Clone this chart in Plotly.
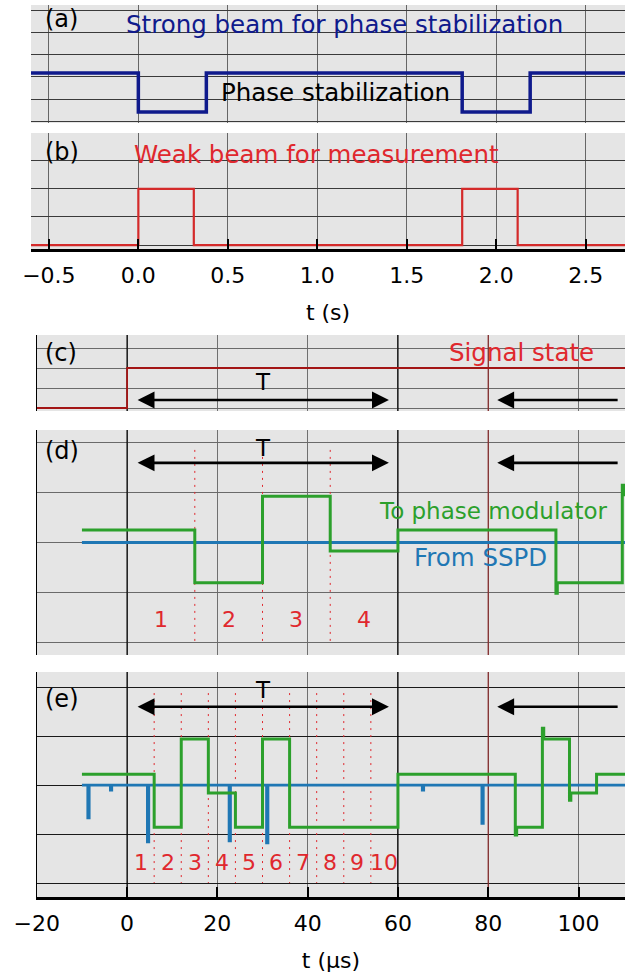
import plotly.graph_objects as go

W, H = 625, 973

# ---------------- data ----------------
# (a) strong beam for phase stabilization: transition times (s) and level after each
beam_t = [-0.6, 0.0, 0.38, 1.81, 2.19, 2.72]
beam_v = [2.18, 0.41, 2.18, 0.41, 2.18, 2.18]
# (b) weak beam for measurement
weak_t = [-0.6, 0.0, 0.31, 1.81, 2.12, 2.72]
weak_v = [0, 2, 0, 2, 0, 0]
# (c) signal state (t in us)
sig_t = [-20, 0, 110.3]
sig_v = [0, 2, 2]
# (d) to phase modulator / from SSPD
pm_d_t = [-10, 15, 30, 45, 60, 95, 95.3, 109.7, 110.3]
pm_d_v = [2.25, 1.19, 2.93, 1.83, 2.25, 0.98, 1.19, 3.15, 2.93]
sspd_d_t = [-10, 110.3]
sspd_d_v = [2.0, 2.0]
# (e) to phase modulator / from SSPD
pm_e_t = [-10, 6, 12, 18, 24, 30, 36, 60, 86, 86.3, 92, 92.3, 98, 98.3, 104, 110.3]
pm_e_v = [2.22, 1.14, 2.94, 1.84, 1.14, 2.94, 1.14, 2.22, 0.98, 1.14, 3.16, 2.94, 1.69, 1.84, 2.22, 2.22]
sspd_base = 2.0
spike_t = [-8.7, -3.7, 4.5, 22.6, 30.9, 65.4, 78.6]
spike_v = [1.33, 1.9, 0.84, 0.86, 0.82, 1.9, 1.22]
# time-slot dividers and labels
div_d = [15, 30, 45]
lab_d_t = [7.5, 22.5, 37.5, 52.5]
lab_d = ["1", "2", "3", "4"]
div_e = [6, 12, 18, 24, 30, 36, 42, 48, 54]
lab_e_t = [3, 9, 15, 21, 27, 33, 39, 45, 51, 57]
lab_e = ["1", "2", "3", "4", "5", "6", "7", "8", "9", "10"]
# ticks
top_ticks = [-0.5, 0.0, 0.5, 1.0, 1.5, 2.0, 2.5]
bot_ticks = [-20, 0, 20, 40, 60, 80, 100]
period_lines = [0, 60]
next_period = 80
T_start, T_end = 2, 58
T_next_start, T_next_end = 82, 109

FONT = "DejaVu Sans"
NAVY = "#0f1a8c"
RED = "#e0282e"
DRED = "#a31515"
GREEN = "#2ca02c"
BLUE = "#1f77b4"
BG = "#e5e5e5"


def py(p):
    return 1 - p / H


def px(p):
    return p / W


fig = go.Figure()

# panel geometry (pixels)
top_dom = [px(31), 1.0]
bot_dom = [px(36.8), 1.0]
panels = {
    "a": dict(y=(5, 123), rng=[-0.09, 5.27], ticks=[0, 1, 2, 3, 4, 5], top=True, hgrid="#3a3a3a"),
    "b": dict(y=(133, 249), rng=[-0.14, 3.99], ticks=[0, 1, 2, 3], top=True, hgrid="#3a3a3a"),
    "c": dict(y=(335, 411), rng=[-0.15, 3.65], ticks=[0, 1, 2, 3], top=False, hgrid="#6a6a6a"),
    "d": dict(y=(430, 655), rng=[-0.26, 4.26], ticks=[0, 1, 2, 3, 4], top=False, hgrid="#6a6a6a"),
    "e": dict(y=(672, 897), rng=[-0.286, 4.31], ticks=[0, 1, 2, 3, 4], top=False, hgrid="#1a1a1a"),
}
names = ["a", "b", "c", "d", "e"]
layout = {}
for i, k in enumerate(names):
    p = panels[k]
    n = "" if i == 0 else str(i + 1)
    y0, y1 = p["y"]
    xa = dict(
        domain=top_dom if p["top"] else bot_dom,
        range=[-0.6, 2.72] if p["top"] else [-20, 110.3],
        anchor="y" + n,
        tickvals=top_ticks if p["top"] else bot_ticks,
        showgrid=True,
        gridcolor="#666666" if p["top"] else "#707070",
        gridwidth=1,
        zeroline=False,
        showticklabels=False,
        ticks="",
        showline=False,
        automargin=False,
    )
    if k in ("b", "e"):
        xa.update(
            showticklabels=True,
            ticks="inside",
            ticklen=10,
            tickwidth=2,
            tickcolor="black",
            showline=True,
            linecolor="black",
            linewidth=3,
            ticklabelstandoff=5,
            tickfont=dict(family=FONT, size=22, color="black"),
        )
        if k == "b":
            xa.update(tickformat=".1f",
                      title=dict(text="t (s)", font=dict(family=FONT, size=22, color="black"), standoff=18))
        else:
            xa.update(title=dict(text="t (μs)", font=dict(family=FONT, size=22, color="black"), standoff=20))
    ya = dict(
        domain=[py(y1), py(y0)],
        range=p["rng"],
        anchor="x" + n,
        tickvals=p["ticks"],
        showticklabels=False,
        showgrid=True,
        gridcolor=p["hgrid"],
        gridwidth=1,
        zeroline=False,
        ticks="",
        showline=not p["top"],
        linecolor="black",
        linewidth=1,
        automargin=False,
    )
    layout["xaxis" + n] = xa
    layout["yaxis" + n] = ya

# ---------------- traces ----------------
fig.add_trace(go.Scatter(x=beam_t, y=beam_v, mode="lines", line=dict(color=NAVY, width=3.5, shape="hv"),
                         xaxis="x", yaxis="y", hoverinfo="skip"))
fig.add_trace(go.Scatter(x=weak_t, y=weak_v, mode="lines", line=dict(color="#d42a2a", width=2.2, shape="hv"),
                         xaxis="x2", yaxis="y2", hoverinfo="skip"))

# emphasised period boundaries and next-period line in lower panels
for n, yr in (("3", panels["c"]["rng"]), ("4", panels["d"]["rng"]), ("5", panels["e"]["rng"])):
    for t in period_lines:
        fig.add_trace(go.Scatter(x=[t, t], y=yr, mode="lines", line=dict(color="black", width=1.2),
                                 xaxis="x" + n, yaxis="y" + n, hoverinfo="skip"))
    fig.add_trace(go.Scatter(x=[next_period, next_period], y=yr, mode="lines",
                             line=dict(color="#8a2a2a", width=1.2),
                             xaxis="x" + n, yaxis="y" + n, hoverinfo="skip"))

fig.add_trace(go.Scatter(x=sig_t, y=sig_v, mode="lines", line=dict(color=DRED, width=1.8, shape="hv"),
                         xaxis="x3", yaxis="y3", hoverinfo="skip"))


# dotted slot dividers
def dividers(ts, top, n):
    xs, ys = [], []
    for t in ts:
        xs += [t, t, None]
        ys += [top, 0, None]
    fig.add_trace(go.Scatter(x=xs, y=ys, mode="lines", line=dict(color=RED, width=1, dash="2px,5px"),
                             xaxis="x" + n, yaxis="y" + n, hoverinfo="skip"))


dividers(div_d, 3.86, "4")
dividers(div_e, 3.88, "5")

fig.add_trace(go.Scatter(x=sspd_d_t, y=sspd_d_v, mode="lines", line=dict(color=BLUE, width=3),
                         xaxis="x4", yaxis="y4", hoverinfo="skip"))
fig.add_trace(go.Scatter(x=pm_d_t, y=pm_d_v, mode="lines", line=dict(color=GREEN, width=3, shape="hv"),
                         xaxis="x4", yaxis="y4", hoverinfo="skip"))

# SSPD trace in (e): baseline with downward detection spikes
se_t = [-10]
se_v = [sspd_base]
for t, v in zip(spike_t, spike_v):
    se_t += [t, t + 0.3]
    se_v += [v, sspd_base]
se_t.append(110.3)
se_v.append(sspd_base)
fig.add_trace(go.Scatter(x=se_t, y=se_v, mode="lines", line=dict(color=BLUE, width=2.8, shape="hv"),
                         xaxis="x5", yaxis="y5", hoverinfo="skip"))
fig.add_trace(go.Scatter(x=pm_e_t, y=pm_e_v, mode="lines", line=dict(color=GREEN, width=3, shape="hv"),
                         xaxis="x5", yaxis="y5", hoverinfo="skip"))

# ---------------- annotations ----------------
ann = []


def text(x, y, s, color="black", size=24.5, xanchor="center"):
    ann.append(dict(x=px(x), y=py(y), xref="paper", yref="paper", text=s, showarrow=False,
                    font=dict(family=FONT, size=size, color=color), xanchor=xanchor, yanchor="middle"))


for lbl, yy in (("(a)", 19), ("(b)", 152), ("(c)", 353), ("(d)", 451), ("(e)", 699)):
    text(43, yy, lbl, xanchor="left", size=24)
text(344, 24, "Strong beam for phase stabilization", color=NAVY)
text(335, 92, "Phase stabilization")
text(316, 154, "Weak beam for measurement", color=RED)
text(521, 353, "Signal state", color=RED)
text(493, 511, "To phase modulator", color=GREEN, size=23)
text(480, 557, "From SSPD", color=BLUE)

# T arrows
for n, ytxt, yarr in (("3", 1.3, 0.4), ("4", 3.9, 3.6), ("5", 3.95, 3.6)):
    ann.append(dict(x=T_end, y=yarr, ax=T_start, ay=yarr, xref="x" + n, yref="y" + n, axref="x" + n,
                    ayref="y" + n, showarrow=True, arrowhead=2, startarrowhead=2, arrowside="end+start",
                    arrowsize=1.3, startarrowsize=1.3, arrowwidth=2.6, arrowcolor="black", text=""))
    ann.append(dict(x=T_next_start, y=yarr, ax=T_next_end, ay=yarr, xref="x" + n, yref="y" + n,
                    axref="x" + n, ayref="y" + n, showarrow=True, arrowhead=2, arrowsize=1.3,
                    arrowwidth=2.6, arrowcolor="black", text=""))
    ann.append(dict(x=(T_start + T_end) / 2, y=ytxt, xref="x" + n, yref="y" + n, text="T", showarrow=False,
                    font=dict(family=FONT, size=23, color="black")))

for t, s in zip(lab_d_t, lab_d):
    ann.append(dict(x=t, y=0.45, xref="x4", yref="y4", text=s, showarrow=False,
                    font=dict(family=FONT, size=22, color=RED)))
for t, s in zip(lab_e_t, lab_e):
    ann.append(dict(x=t, y=0.41, xref="x5", yref="y5", text=s, showarrow=False,
                    font=dict(family=FONT, size=22, color=RED)))

fig.update_layout(
    width=W, height=H,
    margin=dict(l=0, r=0, t=0, b=0),
    paper_bgcolor="white",
    plot_bgcolor=BG,
    showlegend=False,
    annotations=ann,
    **layout,
)

fig.write_html("out.html")
